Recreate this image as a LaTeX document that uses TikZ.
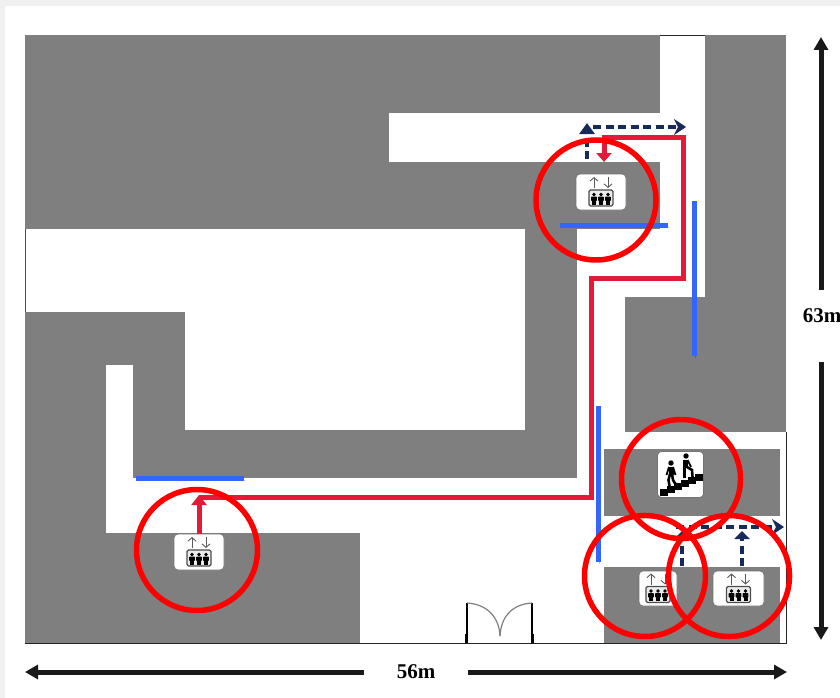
\documentclass[tikz,border=0pt]{standalone}
\usepackage{fontspec}
\setmainfont{Liberation Serif}
\usetikzlibrary{arrows.meta}
\definecolor{wallgrey}{HTML}{7F7F7F}
\definecolor{routered}{HTML}{E21B38}
\definecolor{marksred}{HTML}{FF0000}
\definecolor{doorblue}{HTML}{3366FF}
\definecolor{exitnavy}{HTML}{172B5A}
\tikzset{
    iconbox/.style={draw=black!55,fill=white,rounded corners=4pt,line width=0.7pt,inner sep=0pt},
    marks/.style={draw=marksred,line width=5.5pt},
    routeline/.style={draw=routered,line width=5pt},
    exitline/.style={draw=exitnavy,line width=4.5pt,dash pattern=on 8pt off 4.5pt},
    barrier/.style={draw=doorblue,line width=5pt,preaction={draw=black,opacity=.2,transform canvas={shift={(1pt,-2pt)}}}},
    dimline/.style={draw=black!90,line width=5pt},
    dimlabel/.style={font=\bfseries\fontsize{21}{21}\selectfont,inner sep=0pt}
}
% arrows and three people in a box, drawn round the middle of a lift sign
\newcommand{\liftglyph}[1]{
    \begin{scope}[shift={(#1.center)}]
        \draw [black!65,line width=0.9pt,-{Straight Barb[length=3.5pt,width=8pt]}] (-7,-4) -- (-7,-15);
        \draw [black!65,line width=0.9pt,-{Straight Barb[length=3.5pt,width=8pt]}] (7,-15) -- (7,-4);
        \draw [black!70,fill=black!8,line width=1.3pt,rounded corners=1.5pt] (-12,-2) rectangle (12,14);
        \foreach \px in {-7,0,7} {
            \fill [black] (\px,2.5) circle (1.9);
            \fill [black,rounded corners=0.7pt] ({\px-2.8},4.5) rectangle ({\px+2.8},9);
            \fill [black] ({\px-2},8) rectangle ({\px+2},12.5);
        }
    \end{scope}
}
\begin{document}
\begin{tikzpicture}[x=1pt,y=-1pt]
    \useasboundingbox (0,0) rectangle (840,698);
    \fill [black!6] (0,0) rectangle (840,698);
    \fill [white] (5,6) rectangle (840,698);
    % floor plan
    \fill [wallgrey] (25,35) rectangle (786,643);
    \foreach \xa/\ya/\xb/\yb in {660/35/705/297, 389/113/705/162, 577/229/705/297,
        577/229/625/643, 604/432/787/644, 25/229/525/312, 185/312/525/430,
        106/365/133/533, 106/478/604/533, 360/533/604/644}
        \fill [white] (\xa,\ya) rectangle (\xb,\yb);
    \fill [wallgrey] (604,449) rectangle (780,516);
    \fill [wallgrey] (604,567) rectangle (780,643);
    % outer walls
    \draw [black!85,line width=1.2pt] (660,35.5) -- (705,35.5);
    \draw [black!70,line width=1.2pt] (25.5,229) -- (25.5,312);
    \draw [black!85,line width=1pt] (25,643.5) -- (786,643.5) -- (786,432);
    % door
    \draw [black,line width=2pt] (467,643) -- (467,603);
    \draw [black,line width=2pt] (532,643) -- (532,603);
    \draw [black,line width=3pt] (466.5,643) -- (466.5,634);
    \draw [black,line width=3pt] (532.5,643) -- (532.5,634);
    \draw [black!50,line width=1.2pt] (467,603) .. controls (485,604) and (499,615) .. (500,636);
    \draw [black!50,line width=1.2pt] (532,603) .. controls (514,604) and (501,615) .. (500,636);
    % signs
    \node [iconbox,minimum width=50pt,minimum height=36pt] (liftA) at (199,552) {};
    \node [iconbox,minimum width=50pt,minimum height=36pt] (liftB) at (601,192) {};
    \node [iconbox,minimum width=38pt,minimum height=35pt] (liftC) at (658,588.5) {};
    \node [iconbox,minimum width=51pt,minimum height=35pt] (liftD) at (738.5,588.5) {};
    \node [iconbox,minimum width=46pt,minimum height=46pt] (stairs) at (680.5,474.5) {};
    \liftglyph{liftA}
    \liftglyph{liftB}
    \liftglyph{liftC}
    \liftglyph{liftD}
    % stairs and the two walkers
    \foreach \i in {0,...,5}
        \fill [black] ({660+7*\i},{489-3*\i}) rectangle ++(8,7);
    \fill [black] (671,463) circle (2.7);
    \draw [black,line width=5pt] (671,466.5) -- (671,475);
    \draw [black,line width=1.8pt] (669,467) -- (666.5,475);
    \draw [black,line width=1.8pt] (673,467) -- (675.5,475);
    \draw [black,line width=2.6pt] (670,474) -- (668.5,480) -- (669.5,486);
    \draw [black,line width=2.6pt] (672,474) -- (673,480) -- (676,485);
    \fill [black] (686,456) circle (2.7);
    \draw [black,line width=5pt] (685.5,459.5) -- (685.5,468);
    \draw [black,line width=1.8pt] (687.5,460) -- (691,467);
    \draw [black,line width=2.6pt] (684.5,467) -- (684.5,478);
    \draw [black,line width=2.6pt] (687,467) -- (692,470) -- (692.5,477);
    % barriers
    \coordinate (barAl) at (136,478);
    \coordinate (barAr) at (244,478);
    \coordinate (barBl) at (560,225);
    \coordinate (barBr) at (668,225);
    \coordinate (barCt) at (694,201);
    \coordinate (barCb) at (694,356);
    \coordinate (barDt) at (598,406);
    \coordinate (barDb) at (598,562);
    \draw [barrier] (barAl) -- (barAr);
    \draw [barrier] (barBl) -- (barBr);
    \draw [barrier] (barCt) -- (barCb);
    \draw [barrier] (barDt) -- (barDb);
    % red route between the lifts
    \coordinate (turnA) at (199,497);
    \coordinate (turnB) at (591,497);
    \coordinate (turnC) at (591,278);
    \coordinate (turnD) at (683,278);
    \coordinate (turnE) at (683,137);
    \coordinate (turnF) at (604,137);
    \coordinate (stopB) at (604,162);
    \draw [routeline,-{Triangle[length=10pt,width=15pt]}] (liftA.north) -- ([yshift=2pt]turnA);
    \draw [routeline,line join=miter] (turnA) -- (turnB) -- (turnC) -- (turnD) -- (turnE) -- (turnF);
    \draw [routeline,-{Triangle[length=9pt,width=15pt]}] ([yshift=2pt]turnF) -- (stopB);
    % dashed ways out
    \coordinate (outA) at (587,127);
    \coordinate (outAs) at (587,159);
    \coordinate (outAe) at (686,127);
    \coordinate (outB) at (682,527);
    \coordinate (outBs) at (682,566);
    \coordinate (outBe) at (784,527);
    \coordinate (outCs) at (742,566);
    \coordinate (outCe) at (742,531);
    \draw [exitline,-{Triangle[length=11pt,width=15pt]}] (outAs) -- ([yshift=4pt]outA);
    \draw [exitline,-{Stealth[length=12pt,width=16pt]}] ([xshift=6pt]outA) -- (outAe);
    \draw [exitline,-{Triangle[length=8pt,width=15pt]}] (outBs) -- ([yshift=-4pt]outB);
    \draw [exitline,-{Stealth[length=12pt,width=16pt]}] ([xshift=-6pt]outB) -- (outBe);
    \draw [exitline,-{Triangle[length=8pt,width=15pt]}] (outCs) -- (outCe);
    % red rings
    \draw [marks] (197,550) circle (60.5);
    \draw [marks] (596,200) circle (60);
    \draw [marks] (681,479) circle (59.5);
    \draw [marks] (645,576) circle (60.5);
    \draw [marks] (729,576) circle (60.5);
    % sizes
    \node [dimlabel,minimum width=104pt] (dimW) at (416,672) {56m};
    \node [dimlabel] (dimH) at (822,316) {63m};
    \coordinate (dimWl) at (25,672);
    \coordinate (dimWr) at (787,672);
    \coordinate (dimHt) at (821,37);
    \coordinate (dimHb) at (821,640);
    \coordinate (dimHa) at (821,290);
    \coordinate (dimHc) at (821,362);
    \draw [dimline,-{Triangle[length=13pt,width=14pt]}] (dimW.west) -- (dimWl);
    \draw [dimline,-{Triangle[length=13pt,width=14pt]}] (dimW.east) -- (dimWr);
    \draw [dimline,-{Triangle[length=13pt,width=14pt]}] (dimHa) -- (dimHt);
    \draw [dimline,-{Triangle[length=13pt,width=14pt]}] (dimHc) -- (dimHb);
\end{tikzpicture}
\end{document}
